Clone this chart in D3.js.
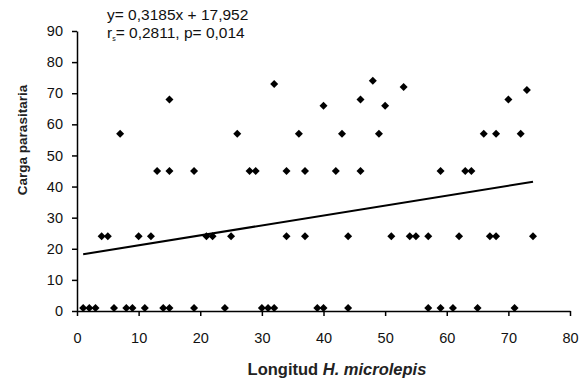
<!DOCTYPE html>
<html>
<head>
<meta charset="utf-8">
<script src="https://cdn.jsdelivr.net/npm/d3@7"></script>
<style>
  body { margin: 0; background: #fff; }
  svg { font-family: "Liberation Sans", Arial, sans-serif; }
</style>
</head>
<body>
<svg width="586" height="381"></svg>
<script>
const width = 586;
const height = 381;

// Longitud H. microlepis (x) and carga parasitaria (y)
const longitud = [
  1, 2, 3, 6, 8, 9, 11, 14, 15, 19, 24, 30, 31, 32, 39, 40, 44, 57, 59, 61, 65, 71,
  4, 5, 10, 12, 21, 22, 25, 34, 37, 44, 51, 54, 55, 57, 62, 67, 68, 74,
  13, 15, 19, 28, 29, 34, 37, 42, 46, 59, 63, 64,
  7, 26, 36, 43, 49, 66, 68, 72,
  40, 50,
  15, 46, 70,
  73, 53, 32, 48
];
const carga = [
  1, 1, 1, 1, 1, 1, 1, 1, 1, 1, 1, 1, 1, 1, 1, 1, 1, 1, 1, 1, 1, 1,
  24, 24, 24, 24, 24, 24, 24, 24, 24, 24, 24, 24, 24, 24, 24, 24, 24, 24,
  45, 45, 45, 45, 45, 45, 45, 45, 45, 45, 45, 45,
  57, 57, 57, 57, 57, 57, 57, 57,
  66, 66,
  68, 68, 68,
  71, 72, 73, 74
];

// regression line y = 0,3185x + 17,952
const slope = 0.3185;
const intercept = 17.952;
const fitRange = [1, 74];

const xTicks = [0, 10, 20, 30, 40, 50, 60, 70, 80];
const yTicks = [0, 10, 20, 30, 40, 50, 60, 70, 80, 90];

const svg = d3.select('svg');

const x = d3.scaleLinear().domain([0, 80]).range([77, 570]);
const y = d3.scaleLinear().domain([0, 90]).range([311, 31]);

// axes
const yAxis = svg.append("g")
  .attr("transform", `translate(${x(0)},0)`)
  .call(d3.axisLeft(y).tickValues(yTicks).tickSize(5).tickSizeOuter(0).tickPadding(9));

const xAxis = svg.append("g")
  .attr("transform", `translate(0,${y(0)})`)
  .call(d3.axisBottom(x).tickValues(xTicks).tickSize(5).tickSizeOuter(0).tickPadding(17));

[xAxis, yAxis].forEach(g => {
  g.selectAll("path, line").style("stroke", "#000").style("stroke-width", 1.5);
  g.selectAll("text")
    .style("font-family", "'Liberation Sans', Arial, sans-serif")
    .style("font-size", "14.5px")
    .style("fill", "#111");
});

// points (diamonds)
svg.selectAll("path.pt")
  .data(longitud.map((d, i) => [d, carga[i]]))
  .enter().append("path")
  .attr("class", "pt")
  .attr("d", d3.symbol().type(d3.symbolSquare).size(32))
  .attr("transform", d => `translate(${x(d[0])},${y(d[1])}) rotate(45)`)
  .style("fill", "#000");

// fitted line
svg.append("line")
  .attr("x1", x(fitRange[0]))
  .attr("y1", y(slope * fitRange[0] + intercept))
  .attr("x2", x(fitRange[1]))
  .attr("y2", y(slope * fitRange[1] + intercept))
  .style("stroke", "#000")
  .style("stroke-width", 2);

// equation text
svg.append("text")
  .attr("x", 107)
  .attr("y", 20)
  .style("font-size", "15.5px")
  .style("fill", "#111")
  .text("y= 0,3185x + 17,952");

const stat = svg.append("text")
  .attr("x", 107)
  .attr("y", 37.5)
  .style("font-size", "15.5px")
  .style("fill", "#111");
stat.append("tspan").text("r");
stat.append("tspan").attr("dy", 3).style("font-size", "7px").text("s");
stat.append("tspan").attr("dy", -3).text("= 0,2811, p= 0,014");

// axis titles
svg.append("text")
  .attr("transform", "translate(27,140) rotate(-90)")
  .attr("text-anchor", "middle")
  .style("font-size", "13.5px")
  .style("font-weight", "bold")
  .style("fill", "#222")
  .text("Carga parasitaria");

const xt = svg.append("text")
  .attr("x", 337)
  .attr("y", 375)
  .attr("text-anchor", "middle")
  .style("font-size", "16.5px")
  .style("font-weight", "bold")
  .style("fill", "#222");
xt.append("tspan").text("Longitud ");
xt.append("tspan").style("font-style", "italic").text("H. microlepis");
</script>
</body>
</html>
